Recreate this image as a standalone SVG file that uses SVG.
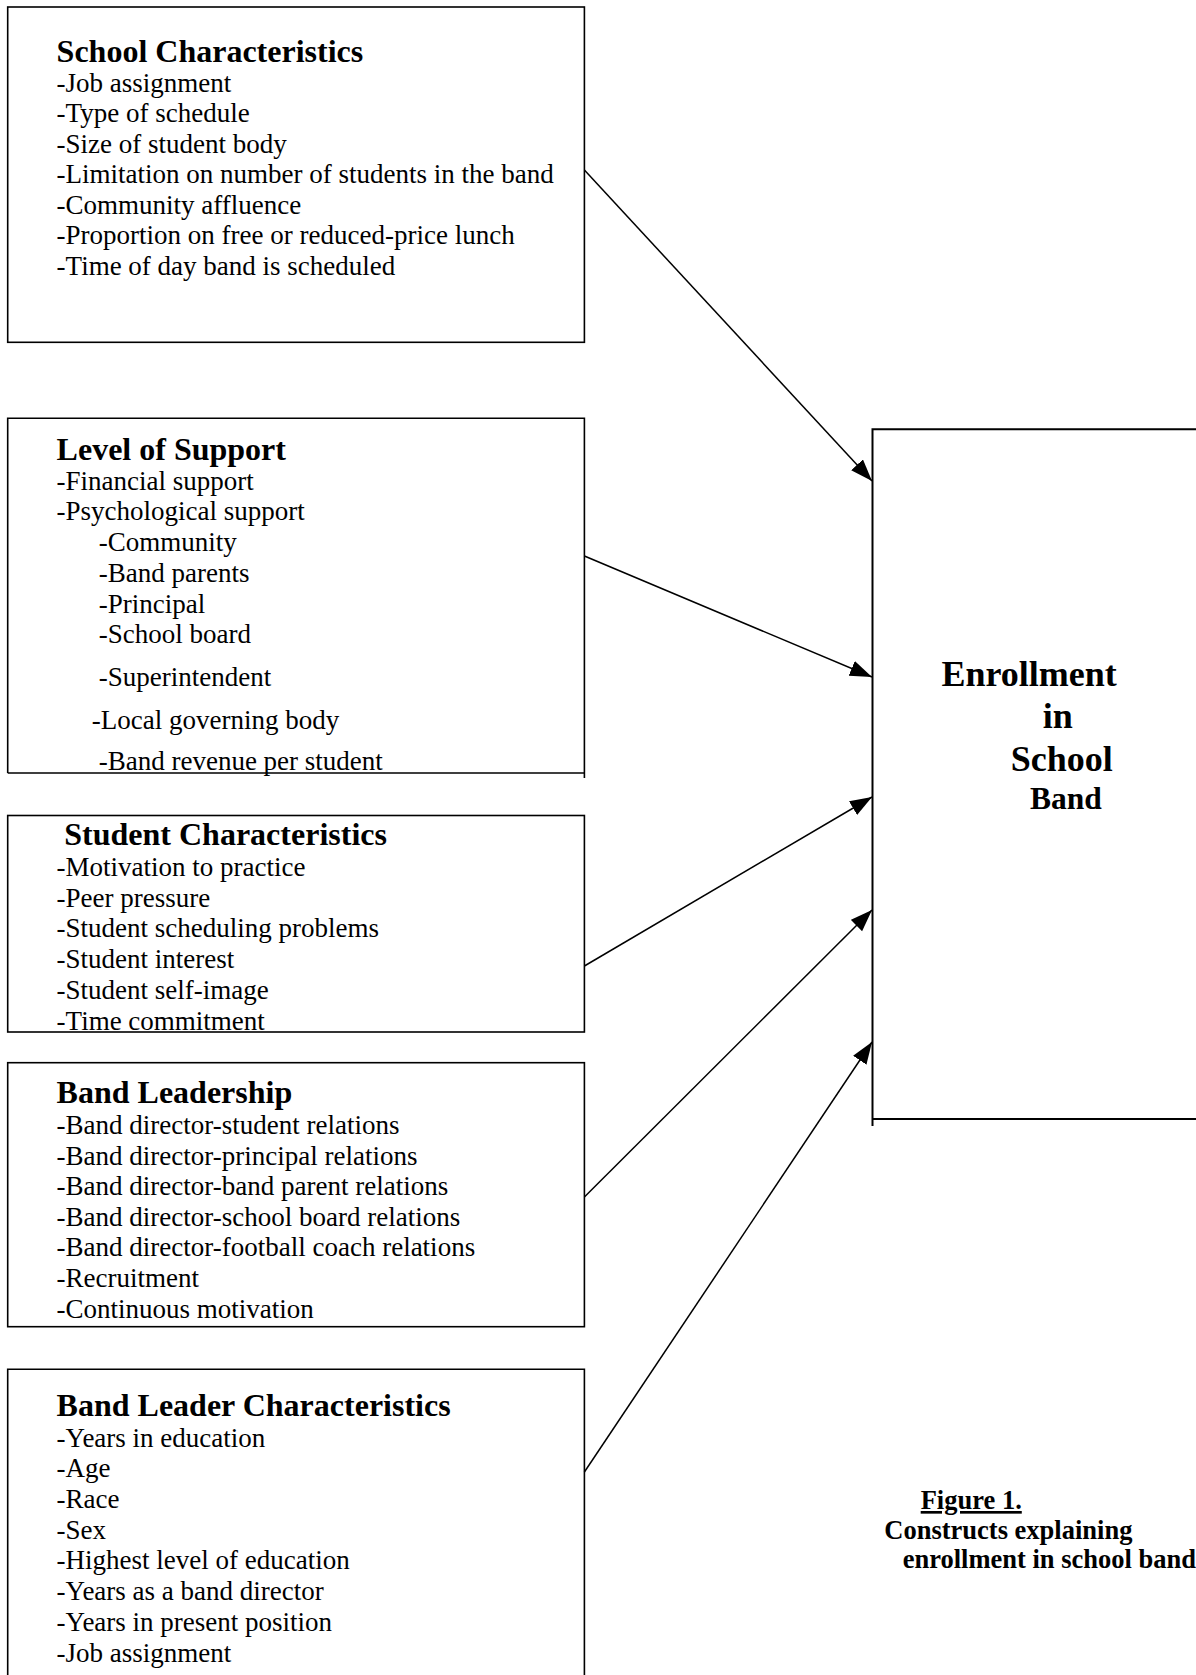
<svg xmlns="http://www.w3.org/2000/svg" width="1196" height="1675" viewBox="0 0 1196 1675">
<style>
.box{fill:none;stroke:#000;stroke-width:1.6}
.t{font-family:"Liberation Serif","Times New Roman",serif;font-size:32px;font-weight:bold;fill:#000}
.i{font-family:"Liberation Serif","Times New Roman",serif;font-size:27px;fill:#000}
.big{font-family:"Liberation Serif","Times New Roman",serif;font-size:36px;font-weight:bold;fill:#000}
.cap{font-family:"Liberation Serif","Times New Roman",serif;font-size:26.5px;font-weight:bold;fill:#000}
.conn{stroke:#000;stroke-width:1.5;fill:none;marker-end:url(#ah)}
</style>
<defs>
<marker id="ah" markerUnits="userSpaceOnUse" markerWidth="24" markerHeight="18" refX="22" refY="8" orient="auto">
<path d="M0,0 L22,8 L0,16 z" fill="#000"/>
</marker>
</defs>
<rect width="1196" height="1675" fill="#fff"/>

<g id="school-characteristics">
<rect class="box" x="7.7" y="7" width="576.7" height="335.3"/>
<text class="t" x="56.6" y="61.5">School Characteristics</text>
<text class="i" x="56.6" y="91.5">-Job assignment</text>
<text class="i" x="56.6" y="122">-Type of schedule</text>
<text class="i" x="56.6" y="152.5">-Size of student body</text>
<text class="i" x="56.6" y="183">-Limitation on number of students in the band</text>
<text class="i" x="56.6" y="213.5">-Community affluence</text>
<text class="i" x="56.6" y="244">-Proportion on free or reduced-price lunch</text>
<text class="i" x="56.6" y="274.5">-Time of day band is scheduled</text>
</g>

<g id="level-of-support">
<path class="box" d="M7.7,773 V418.3 H584.4 V778 M7.7,773 H584.4"/>
<text class="t" x="56.6" y="460">Level of Support</text>
<text class="i" x="56.6" y="490">-Financial support</text>
<text class="i" x="56.6" y="520">-Psychological support</text>
<text class="i" x="98.7" y="551">-Community</text>
<text class="i" x="98.7" y="582">-Band parents</text>
<text class="i" x="98.7" y="612.5">-Principal</text>
<text class="i" x="98.7" y="643">-School board</text>
<text class="i" x="98.7" y="686">-Superintendent</text>
<text class="i" x="91.8" y="728.5">-Local governing body</text>
<text class="i" x="98.7" y="770">-Band revenue per student</text>
</g>

<g id="student-characteristics">
<rect class="box" x="7.7" y="815.5" width="576.7" height="216.5"/>
<text class="t" x="64.3" y="845">Student Characteristics</text>
<text class="i" x="56.6" y="876">-Motivation to practice</text>
<text class="i" x="56.6" y="906.7">-Peer pressure</text>
<text class="i" x="56.6" y="937.3">-Student scheduling problems</text>
<text class="i" x="56.6" y="968">-Student interest</text>
<text class="i" x="56.6" y="998.7">-Student self-image</text>
<text class="i" x="56.6" y="1029.5">-Time commitment</text>
</g>

<g id="band-leadership">
<rect class="box" x="7.7" y="1062.7" width="576.7" height="264"/>
<text class="t" x="56.6" y="1103.3">Band Leadership</text>
<text class="i" x="56.6" y="1134">-Band director-student relations</text>
<text class="i" x="56.6" y="1164.7">-Band director-principal relations</text>
<text class="i" x="56.6" y="1195.3">-Band director-band parent relations</text>
<text class="i" x="56.6" y="1226">-Band director-school board relations</text>
<text class="i" x="56.6" y="1256.3">-Band director-football coach relations</text>
<text class="i" x="56.6" y="1287">-Recruitment</text>
<text class="i" x="56.6" y="1317.5">-Continuous motivation</text>
</g>

<g id="band-leader-characteristics">
<path class="box" d="M7.7,1676 V1369.3 H584.4 V1676"/>
<text class="t" x="56.6" y="1416">Band Leader Characteristics</text>
<text class="i" x="56.6" y="1446.7">-Years in education</text>
<text class="i" x="56.6" y="1477.3">-Age</text>
<text class="i" x="56.6" y="1508">-Race</text>
<text class="i" x="56.6" y="1538.5">-Sex</text>
<text class="i" x="56.6" y="1569.3">-Highest level of education</text>
<text class="i" x="56.6" y="1600">-Years as a band director</text>
<text class="i" x="56.6" y="1631">-Years in present position</text>
<text class="i" x="56.6" y="1661.7">-Job assignment</text>
</g>

<g id="enrollment">
<path class="box" d="M1197,429.3 H872.5 V1126 M872.5,1119 H1197" style="stroke-width:2"/>
<text class="big" x="941.5" y="685.5">Enrollment</text>
<text class="big" x="1042.7" y="727.5">in</text>
<text class="big" x="1010.7" y="770.5">School</text>
<text class="big" x="1030" y="809" style="font-size:31.5px">Band</text>
</g>

<g id="caption">
<text class="cap" x="920.7" y="1509" text-decoration="underline">Figure 1.</text>
<text class="cap" x="884.3" y="1538.7">Constructs explaining</text>
<text class="cap" x="902.7" y="1567.7">enrollment in school band</text>
</g>

<g id="connectors">
<line class="conn" x1="584.4" y1="170" x2="872" y2="481"/>
<line class="conn" x1="584.4" y1="556" x2="872" y2="677"/>
<line class="conn" x1="584.4" y1="966" x2="872" y2="797"/>
<line class="conn" x1="584.4" y1="1197" x2="872" y2="910"/>
<line class="conn" x1="584.4" y1="1472" x2="872" y2="1042"/>
</g>
</svg>
